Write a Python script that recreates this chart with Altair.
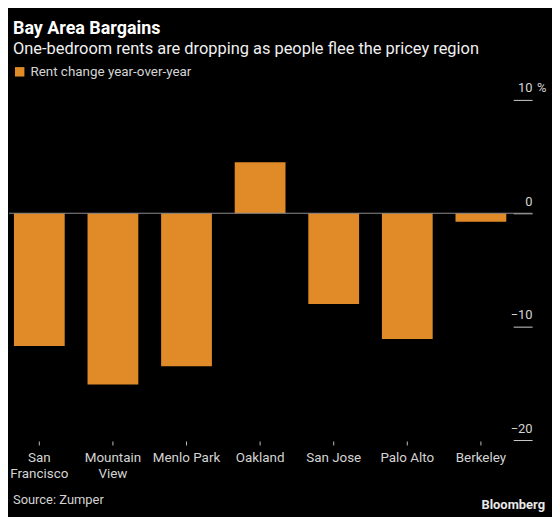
import altair as alt
import pandas as pd

cities = ["San Francisco", "Mountain View", "Menlo Park", "Oakland", "San Jose", "Palo Alto", "Berkeley"]
changes = [-11.7, -15.1, -13.5, 4.5, -8.0, -11.1, -0.75]
series = "Rent change year-over-year"
y_ticks = [-20, -10, 0, 10]
wrapped = ["San Francisco", "Mountain View"]

title = "Bay Area Bargains"
subtitle = "One-bedroom rents are dropping as people flee the pricey region"
source = "Source: Zumper"
brand = "Bloomberg"

df = pd.DataFrame({"city": cities, "change": changes, "series": [series] * len(cities)})

W, H = 526, 342
ORANGE = "#E08B27"
FONT = "Roboto"
LABEL = "#d4d4d4"

yscale = alt.Scale(domain=[-20, 10], nice=False, zero=False)
xscale = alt.Scale(domain=cities, range=[-6.5, 511.5], paddingInner=0.31, paddingOuter=0.155)

bars = alt.Chart(df).mark_bar().encode(
    x=alt.X("city:N", sort=cities, title=None, scale=xscale,
            axis=alt.Axis(orient="bottom", tickSize=4, tickColor="#bbbbbb", offset=1,
                          domain=False, grid=False, labels=False)),
    y=alt.Y("change:Q", scale=yscale, title=None,
            axis=alt.Axis(orient="right", values=y_ticks, offset=-19, tickSize=19,
                          tickColor="#cccccc", tickWidth=1, domain=False, grid=False,
                          labelAlign="right", labelBaseline="alphabetic", labelOffset=-8,
                          labelPadding=0, labelFont=FONT, labelFontSize=13, labelColor=LABEL)),
    color=alt.Color("series:N", scale=alt.Scale(range=[ORANGE]),
                    legend=alt.Legend(orient="none", legendX=4, legendY=-35, title=None,
                                      symbolType="square", symbolSize=90, symbolStrokeWidth=0,
                                      labelFont=FONT, labelFontSize=13.5, labelColor=LABEL,
                                      labelOffset=4, labelLimit=400)),
)

wrap_test = "indexof(" + str(wrapped) + ", datum.city) >= 0"
lab_base = alt.Chart(df).transform_calculate(
    l1=wrap_test + " ? split(datum.city, ' ')[0] : datum.city",
    l2=wrap_test + " ? split(datum.city, ' ')[1] : ''",
)
line1 = lab_base.mark_text(
    baseline="top", align="center", font=FONT, fontSize=13.5, color=LABEL
).encode(x=alt.X("city:N", sort=cities, scale=xscale), y=alt.value(H + 11), text="l1:N")
line2 = lab_base.mark_text(
    baseline="top", align="center", font=FONT, fontSize=13.5, color=LABEL
).encode(x=alt.X("city:N", sort=cities, scale=xscale), y=alt.value(H + 27), text="l2:N")

zero = alt.Chart(pd.DataFrame({"v": [0]})).mark_rule(color="#8a8a8a", strokeWidth=1.2).encode(
    y=alt.Y("v:Q", scale=yscale))

pct = alt.Chart(pd.DataFrame({"v": [10], "t": ["%"]})).mark_text(
    align="left", baseline="alphabetic", dy=-8, font=FONT, fontSize=13, color=LABEL
).encode(y=alt.Y("v:Q", scale=yscale), x=alt.value(W + 5), text="t:N")

t_title = alt.Chart(pd.DataFrame({"t": [title]})).mark_text(
    align="left", baseline="alphabetic", font=FONT, fontSize=18, fontWeight="bold", color="#ffffff"
).encode(text="t:N", x=alt.value(4), y=alt.value(-66))
t_sub = alt.Chart(pd.DataFrame({"t": [subtitle]})).mark_text(
    align="left", baseline="alphabetic", font=FONT, fontSize=16.5, color="#f0f0f0"
).encode(text="t:N", x=alt.value(4), y=alt.value(-46))
t_src = alt.Chart(pd.DataFrame({"t": [source]})).mark_text(
    align="left", baseline="alphabetic", font=FONT, fontSize=13, color=LABEL
).encode(text="t:N", x=alt.value(4), y=alt.value(406))
t_brand = alt.Chart(pd.DataFrame({"t": [brand]})).mark_text(
    align="right", baseline="alphabetic", font=FONT, fontSize=13, fontWeight="bold", color="#e8e8e8"
).encode(text="t:N", x=alt.value(539), y=alt.value(411))

chart = alt.layer(bars, zero, line1, line2, pct, t_title, t_sub, t_src, t_brand).properties(
    width=W, height=H, background="#000000",
    padding={"left": 0, "top": 11, "right": 5, "bottom": 5},
).configure_view(stroke=None)

chart.save("out.html", embed_options={"renderer": "svg", "actions": False})
